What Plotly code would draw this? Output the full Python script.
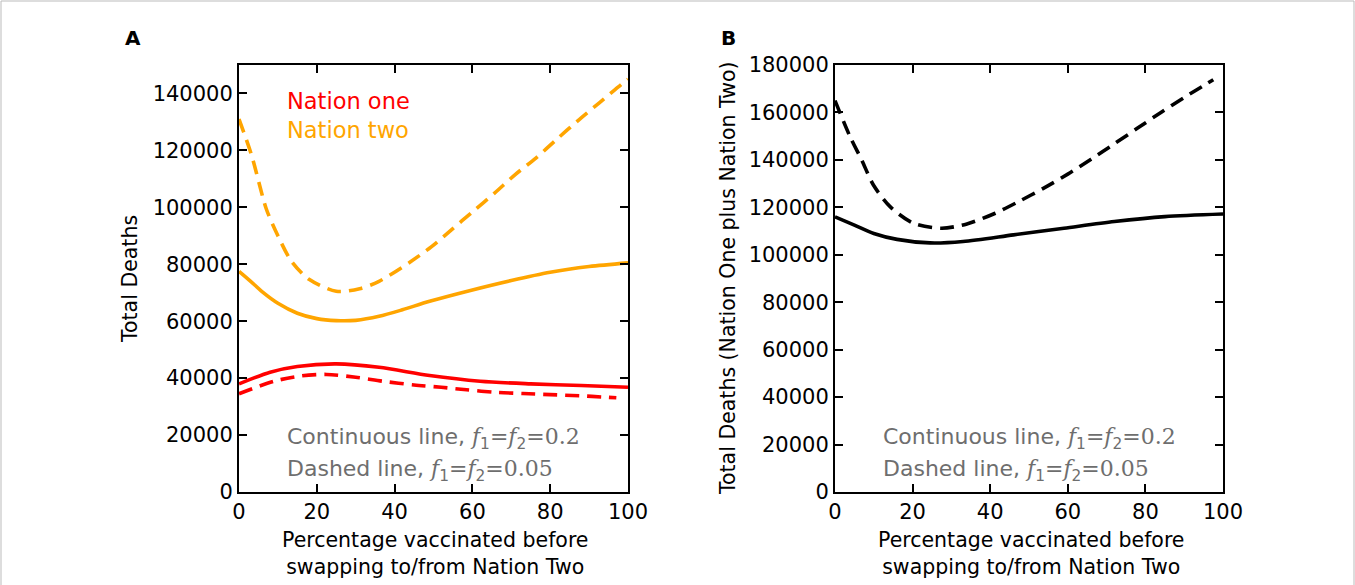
import plotly.graph_objects as go

W, H = 1355, 585

# ---- data ----
x_n2_solid = [0, 3, 6, 10, 15, 20, 25, 30, 36, 42, 49, 60, 70, 80, 90, 100]
n2_solid = [77500, 74000, 70300, 66300, 62800, 60900, 60200, 60300, 61700, 64000, 67000, 71000, 74300, 77200, 79200, 80500]

x_n2_dash = [0, 3.3, 7, 10, 13.5, 18, 25, 31, 36, 44, 49.5, 54.6, 60, 65.7, 71, 76.4, 81.6, 87, 92.7, 98.3, 100]
n2_dash = [131000, 118000, 99500, 90000, 81000, 74700, 70500, 71400, 74000, 80800, 86200, 92100,
           98400, 105000, 111500, 117400, 123800, 130300, 136800, 143200, 145000]

x_n1_solid = [0, 8, 15, 25, 36, 49, 62, 75, 88, 100]
n1_solid = [38000, 42100, 44100, 45000, 43800, 40900, 38900, 38000, 37400, 36800]

x_n1_dash = [0, 9, 16, 22.5, 30, 37, 45, 52, 58.5, 66, 73, 80, 87.6, 94.4, 97]
n1_dash = [34500, 38900, 40800, 41300, 40300, 38900, 37600, 36800, 35900, 35000, 34600, 34200, 33800, 33300, 33100]

x_tot_solid = [0, 5, 10, 16, 24.5, 33, 46, 59, 72, 85, 100]
tot_solid = [116000, 112500, 109000, 106500, 105000, 105600, 108400, 111200, 114000, 116100, 117200]

x_tot_dash = [0, 3.9, 6.9, 9.9, 14.2, 20.2, 27.5, 34, 41.3, 47.3, 53.7, 60, 66, 72, 78, 84, 90, 96, 97.5]
tot_dash = [165000, 149700, 139900, 129400, 120300, 113300, 111200, 113000, 117500, 122400, 128000,
            134000, 140300, 146800, 153400, 160000, 166300, 172300, 173800]

x_ticks = [0, 20, 40, 60, 80, 100]
yA_ticks = [0, 20000, 40000, 60000, 80000, 100000, 120000, 140000]
yB_ticks = [0, 20000, 40000, 60000, 80000, 100000, 120000, 140000, 160000, 180000]

RED = "#ff0000"
ORANGE = "#ffa500"
GREY = "#6e6e6e"
LW = 3.6
DASH = "14px,8px"

def px(x):
    return x / W

def py(y):
    return 1 - y / H

fig = go.Figure()
fig.add_trace(go.Scatter(x=x_n2_dash, y=n2_dash, mode="lines", line=dict(color=ORANGE, width=LW, dash=DASH, shape="spline", smoothing=0.8), xaxis="x", yaxis="y"))
fig.add_trace(go.Scatter(x=x_n2_solid, y=n2_solid, mode="lines", line=dict(color=ORANGE, width=LW, shape="spline", smoothing=0.8), xaxis="x", yaxis="y"))
fig.add_trace(go.Scatter(x=x_n1_solid, y=n1_solid, mode="lines", line=dict(color=RED, width=LW, shape="spline", smoothing=0.8), xaxis="x", yaxis="y"))
fig.add_trace(go.Scatter(x=x_n1_dash, y=n1_dash, mode="lines", line=dict(color=RED, width=LW, dash=DASH, shape="spline", smoothing=0.8), xaxis="x", yaxis="y"))
fig.add_trace(go.Scatter(x=x_tot_dash, y=tot_dash, mode="lines", line=dict(color="black", width=LW, dash=DASH, shape="spline", smoothing=0.8), xaxis="x2", yaxis="y2"))
fig.add_trace(go.Scatter(x=x_tot_solid, y=tot_solid, mode="lines", line=dict(color="black", width=LW, shape="spline", smoothing=0.8), xaxis="x2", yaxis="y2"))

TICKFONT = dict(family="DejaVu Sans", size=21, color="black")
axis_common = dict(showgrid=False, zeroline=False, showline=True, linecolor="black", linewidth=2,
                   mirror="ticks", ticks="inside", ticklen=8, tickwidth=1.5, tickcolor="black",
                   tickfont=TICKFONT, automargin=False, tickformat="d")

yA_dom = [py(492), py(65)]
fig.update_layout(
    width=W, height=H, margin=dict(l=0, r=0, t=0, b=0),
    paper_bgcolor="white", plot_bgcolor="white", showlegend=False,
    xaxis=dict(domain=[px(239), px(628)], range=[0, 100], tickvals=x_ticks, anchor="y", **axis_common),
    yaxis=dict(domain=yA_dom, range=[0, 150000], tickvals=yA_ticks, anchor="x", **axis_common),
    xaxis2=dict(domain=[px(835), px(1223)], range=[0, 100], tickvals=x_ticks, anchor="y2", **axis_common),
    yaxis2=dict(domain=yA_dom, range=[0, 180000], tickvals=yB_ticks, anchor="x2", **axis_common),
)

LABF = dict(family="DejaVu Sans", size=20.5, color="black")
M = "font-family:'DejaVu Serif';font-style:italic"
R = "font-family:'DejaVu Serif'"
cont = f"Continuous line, <span style=\"{M}\">f</span><sub>1</sub><span style=\"{R}\">=</span><span style=\"{M}\">f</span><sub>2</sub><span style=\"{R}\">=0.2</span>"
dash_t = f"Dashed line, <span style=\"{M}\">f</span><sub>1</sub><span style=\"{R}\">=</span><span style=\"{M}\">f</span><sub>2</sub><span style=\"{R}\">=0.05</span>"
NOTEF = dict(family="DejaVu Sans", size=22, color=GREY)

ann = [
    dict(x=px(123), y=py(38), text="<b>A</b>", font=dict(family="DejaVu Sans", size=20, color="black"), xanchor="left"),
    dict(x=px(719), y=py(38), text="<b>B</b>", font=dict(family="DejaVu Sans", size=20, color="black"), xanchor="left"),
    dict(x=px(130), y=py(279), text="Total Deaths", textangle=-90, font=LABF),
    dict(x=px(728), y=py(278), text="Total Deaths (Nation One plus Nation Two)", textangle=-90, font=LABF),
    dict(x=px(435), y=py(553), text="Percentage vaccinated before<br>swapping to/from Nation Two", font=LABF),
    dict(x=px(1031), y=py(553), text="Percentage vaccinated before<br>swapping to/from Nation Two", font=LABF),
    dict(x=px(285), y=py(101), text="Nation one", font=dict(family="DejaVu Sans", size=22.5, color=RED), xanchor="left"),
    dict(x=px(285), y=py(130), text="Nation two", font=dict(family="DejaVu Sans", size=22.5, color=ORANGE), xanchor="left"),
    dict(x=px(285), y=py(438), text=cont, font=NOTEF, xanchor="left"),
    dict(x=px(285), y=py(470), text=dash_t, font=NOTEF, xanchor="left"),
    dict(x=px(881), y=py(438), text=cont, font=NOTEF, xanchor="left"),
    dict(x=px(881), y=py(470), text=dash_t, font=NOTEF, xanchor="left"),
]
for a in ann:
    a.update(xref="paper", yref="paper", showarrow=False)
    a.setdefault("xanchor", "center")
    a.setdefault("yanchor", "middle")
fig.update_layout(annotations=ann)

fig.add_shape(type="rect", xref="paper", yref="paper", x0=px(1), x1=px(W - 1), y0=py(H + 5), y1=py(1),
              line=dict(color="#bbbbbb", width=1))

fig.write_html("out.html", config={"displayModeBar": False},
               post_script="document.body.style.margin='0';document.body.style.overflow='hidden';")
